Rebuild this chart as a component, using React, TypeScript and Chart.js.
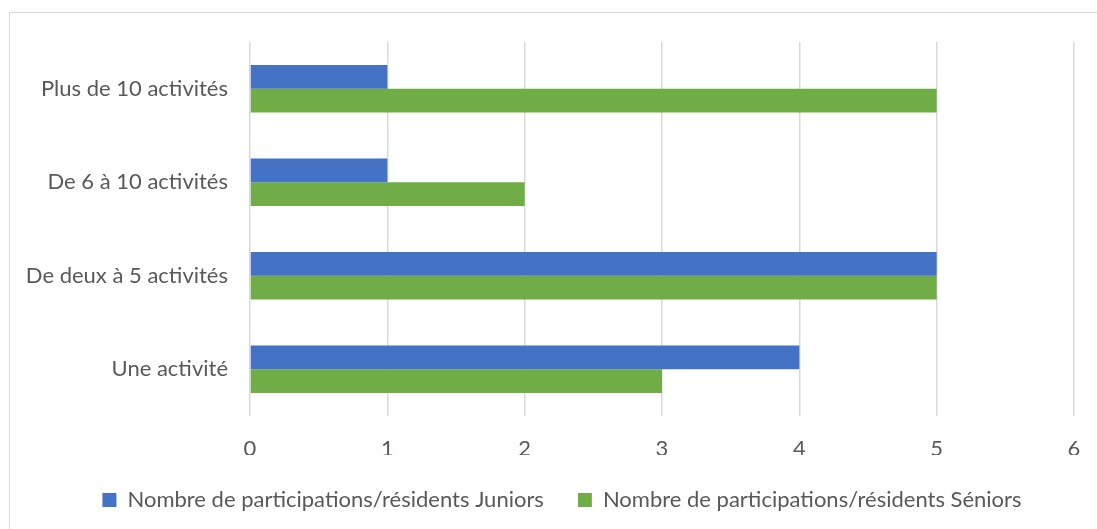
import React, { useEffect, useRef } from "react";
import { Chart, registerables } from "chart.js";

Chart.register(...registerables);

const categories = ["Plus de 10 activités", "De 6 à 10 activités", "De deux à 5 activités", "Une activité"];
const juniors = [1, 1, 5, 4];
const seniors = [5, 2, 5, 3];
const seriesNames = ["Nombre de participations/résidents Juniors", "Nombre de participations/résidents Séniors"];
const xMin = 0;
const xMax = 6;

const FONT = "Lato";
const TEXT = "#595959";
const FS = 22;

export default function App() {
  const ref = useRef<HTMLCanvasElement | null>(null);
  useEffect(() => {
    document.body.style.overflow = "hidden";
    const chart = new Chart(ref.current as HTMLCanvasElement, {
      type: "bar",
      data: {
        labels: categories,
        datasets: [
          { label: seriesNames[0], data: juniors, backgroundColor: "#4472C4", categoryPercentage: 0.51, barPercentage: 1, yAxisID: "y" },
          { label: seriesNames[1], data: seniors, backgroundColor: "#70AD47", categoryPercentage: 0.51, barPercentage: 1, yAxisID: "y" },
        ],
      },
      options: {
        indexAxis: "y",
        animation: false,
        responsive: false,
        maintainAspectRatio: false,
        layout: { padding: { left: 20, right: 0, top: 42, bottom: 8 } },
        scales: {
          x: {
            min: xMin,
            max: xMax,
            ticks: { stepSize: 1, color: TEXT, font: { family: FONT, size: FS }, padding: 20 },
            grid: { color: "#d9d9d9", lineWidth: 1.5, drawTicks: false },
            border: { display: false },
            afterFit: (scale: any) => { scale.height = 39; },
          },
          y: {
            ticks: { color: TEXT, font: { family: FONT, size: FS }, padding: 22 },
            grid: { display: false, drawTicks: false },
            border: { display: false },
            afterFit: (scale: any) => { scale.width = 230; },
          },
          y2: {
            type: "category",
            position: "right",
            labels: categories,
            ticks: { display: false },
            grid: { display: false, drawTicks: false },
            border: { display: false },
            afterFit: (scale: any) => { scale.width = 30; },
          },
        },
        plugins: {
          legend: {
            position: "bottom",
            labels: { color: TEXT, font: { family: FONT, size: FS }, boxWidth: 14, boxHeight: 14, padding: 34 },
          },
          tooltip: { enabled: false },
        },
      },
    });
    return () => chart.destroy();
  }, []);
  return (
    <div style={{ position: "fixed", left: 0, top: 0, width: 1097, height: 529, overflow: "hidden", background: "#fff" }}>
      <div style={{ position: "absolute", left: 9, top: 12, width: 1120, height: 560, border: "1.5px solid #d9d9d9", boxSizing: "border-box" }} />
      <canvas ref={ref} width={1104} height={529} style={{ position: "absolute", left: 0, top: 0, width: 1104, height: 529 }} />
    </div>
  );
}
